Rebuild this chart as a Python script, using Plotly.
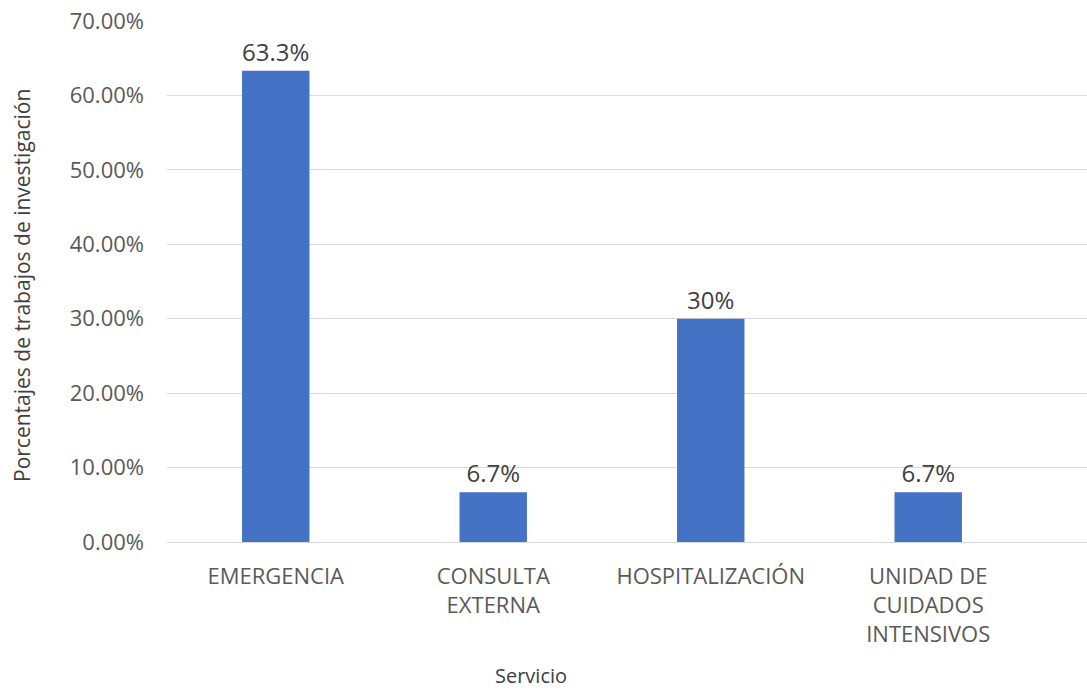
import plotly.graph_objects as go

categories = ["EMERGENCIA", "CONSULTA<br>EXTERNA", "HOSPITALIZACIÓN", "UNIDAD DE<br>CUIDADOS<br>INTENSIVOS"]
values = [63.3, 6.7, 30, 6.7]
value_labels = ["63.3%", "6.7%", "30%", "6.7%"]
y_ticks = [0, 10, 20, 30, 40, 50, 60, 70]
y_tick_labels = ["0.00%", "10.00%", "20.00%", "30.00%", "40.00%", "50.00%", "60.00%", "70.00%"]

FONT = "Open Sans"
W, H = 1087, 690
L, R, T, B = 167, 0, 21, 148
pw, ph = W - L - R, H - T - B

fig = go.Figure(go.Bar(
    x=categories, y=values,
    marker=dict(color="#4472C4", line=dict(width=0)),
    width=0.31,
    text=value_labels, texttemplate="%{text}", textposition="outside", cliponaxis=False,
    textfont=dict(family=FONT, size=24, color="#404040"),
))

fig.update_layout(
    width=W, height=H,
    margin=dict(l=L, r=R, t=T, b=B, autoexpand=False),
    paper_bgcolor="white", plot_bgcolor="white",
    showlegend=False,
    font=dict(family=FONT, color="#595959"),
    xaxis=dict(
        range=[-0.5, 3.73], showgrid=False, showline=False, zeroline=False,
        tickfont=dict(family=FONT, size=22, color="#595959"),
        ticks="outside", ticklen=15, tickcolor="rgba(0,0,0,0)",
    ),
    yaxis=dict(
        range=[0, 70], tickvals=y_ticks, ticktext=y_tick_labels,
        showgrid=True, gridcolor="#d9d9d9", gridwidth=1.3,
        zeroline=True, zerolinecolor="#d9d9d9", zerolinewidth=1.3,
        showline=False,
        tickfont=dict(family=FONT, size=22, color="#595959"),
        ticklabelstandoff=22,
    ),
    annotations=[
        dict(text="Porcentajes de trabajos de investigación", textangle=-90,
             xref="paper", yref="paper", x=(22 - L) / pw, y=(H - B - 286) / ph,
             showarrow=False, xanchor="center", yanchor="middle",
             font=dict(family=FONT, size=21, color="#404040")),
        dict(text="Servicio",
             xref="paper", yref="paper", x=(531 - L) / pw, y=(H - B - 675) / ph,
             showarrow=False, xanchor="center", yanchor="middle",
             font=dict(family=FONT, size=20, color="#404040")),
    ],
)

fig.write_html("out.html", config={"displayModeBar": False},
               post_script="document.body.style.margin='0px';")
